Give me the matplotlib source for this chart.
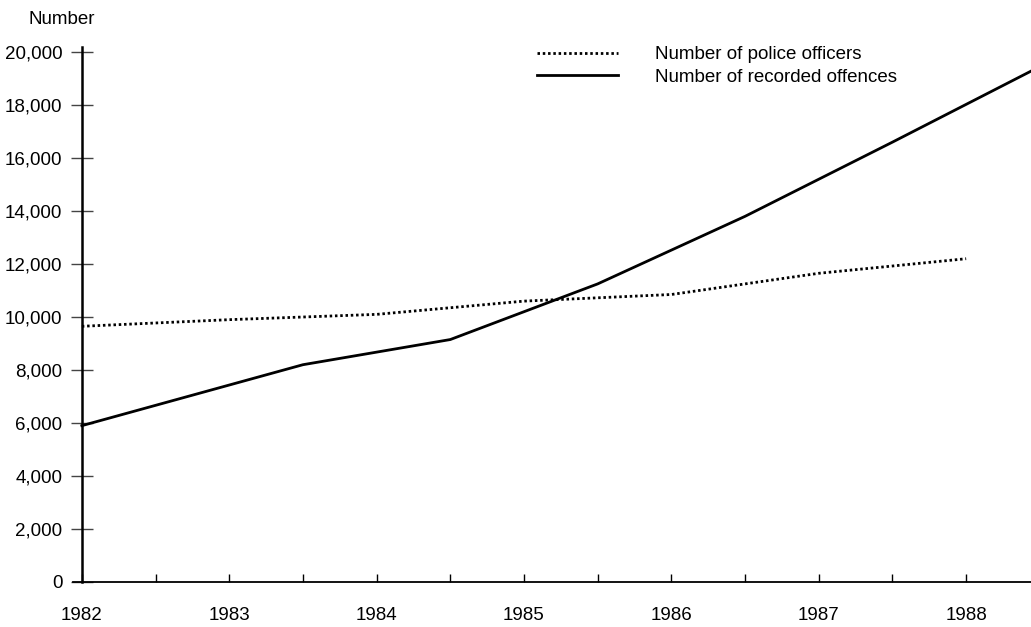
import numpy as np
import matplotlib
matplotlib.use("Agg")
import matplotlib.pyplot as plt
from matplotlib.ticker import FuncFormatter, MultipleLocator

plt.rcParams["font.family"] = ["Liberation Sans Narrow", "Liberation Sans", "DejaVu Sans"]

# ===================== DATA =====================
police_years = [1982, 1983, 1984, 1985, 1986, 1987, 1988]
police_officers = [9650, 9900, 10100, 10600, 10850, 11650, 12200]

offence_years = [1982, 1983.5, 1984.5, 1985.5, 1986.5, 1987.5, 1988.5]
recorded_offences = [5900, 8200, 9150, 11250, 13800, 16600, 19450]

year_labels = ["1982", "1983", "1984", "1985", "1986", "1987", "1988"]

FS = 13.5

# ===================== FIGURE =====================
W, H = 1031, 627
fig = plt.figure(figsize=(W / 100, H / 100), dpi=100)
ax = fig.add_axes([73 / W, 45 / H, (W - 73) / W, (582 - 47) / H])

ax.plot(police_years, police_officers, color="black", lw=2.0,
        linestyle=(0, (0.9, 1.0)), label="Number of police officers")
ax.plot(offence_years, recorded_offences, color="black", lw=2.0,
        linestyle="-", label="Number of recorded offences")

ax.set_xlim(1981.94, 1988.44)
ax.set_ylim(0, 20190)

# spines
for s in ["top", "right"]:
    ax.spines[s].set_visible(False)
ax.spines["left"].set_position(("data", 1982))
ax.spines["left"].set_linewidth(1.8)
ax.spines["bottom"].set_linewidth(1.3)

# y ticks
ax.yaxis.set_major_locator(MultipleLocator(2000))
ax.yaxis.set_major_formatter(FuncFormatter(lambda v, p: f"{int(v):,}"))
ax.tick_params(axis="y", direction="inout", length=16, width=1.0,
               color="#444444", labelsize=FS, pad=6)

# x ticks: years labelled, half-years ticked
ax.set_xticks([int(y) for y in year_labels])
ax.set_xticklabels(year_labels)
ax.xaxis.set_minor_locator(MultipleLocator(0.5))
ax.tick_params(axis="x", which="both", direction="in", length=6, width=1.0,
               color="black", labelsize=FS, pad=18)

fig.text(28 / W, 1 - 20 / H, "Number", fontsize=FS, ha="left", va="center")

leg = ax.legend(loc="upper left", bbox_to_anchor=(537 / W, 1 - 46 / H),
                bbox_transform=fig.transFigure, frameon=False, fontsize=FS,
                handlelength=4.3, handletextpad=2.0, labelspacing=0.3,
                borderaxespad=0, borderpad=0)

fig.savefig("out.png", dpi=100)
